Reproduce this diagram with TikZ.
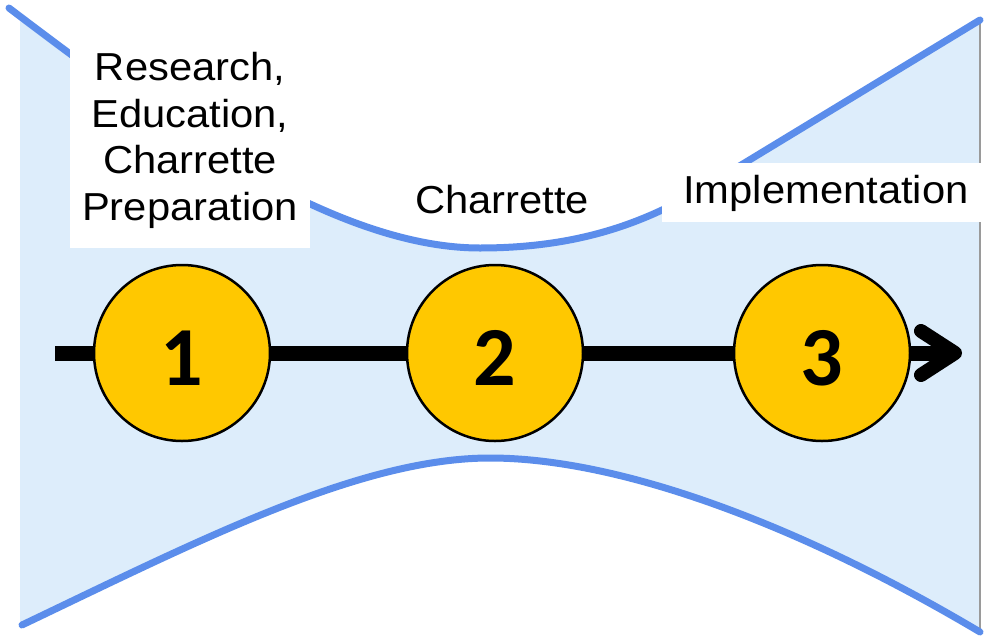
\documentclass[tikz,border=0pt]{standalone}
\usepackage{fontspec}
\setmainfont{Liberation Sans}[FakeStretch=1.07]
\newfontfamily\numfont{Carlito}
\usetikzlibrary{calc}
\definecolor{funnelfill}{HTML}{DDEDFB}
\definecolor{funnelline}{HTML}{5B8DEB}
\definecolor{stepgold}{HTML}{FFC800}
\definecolor{edgegray}{HTML}{9A9A9A}
\begin{document}
\begin{tikzpicture}[x=1pt,y=-1pt,
  funnel/.style={draw=funnelline, line width=7pt, line cap=round},
  stepcircle/.style={circle, fill=stepgold, draw=black, line width=2.5pt,
    minimum size=176pt, inner sep=0pt, text height=65pt, text depth=0pt,
    font=\numfont\bfseries\fontsize{84}{84}\selectfont},
  phasetext/.style={font=\fontsize{39}{46.5}\selectfont, align=center, inner sep=0pt},
  flowline/.style={line width=15pt},
  chevron/.style={line width=14pt, line cap=round, line join=round}]
\useasboundingbox (0,0) rectangle (988,635);
% funnel area
\fill[funnelfill] (9,8) .. controls (150,115) and (330,248) .. (480,248)
  .. controls (580,248) and (645,222) .. (700,190) -- (980,20) -- (980,632)
  .. controls (800,525) and (620,458) .. (490,458)
  .. controls (360,458) and (200,540) .. (22,625) -- (20,625) -- (20,16) -- cycle;
\draw[edgegray, line width=1.5pt] (980,20) -- (980,632);
\draw[funnel] (9,8) .. controls (150,115) and (330,248) .. (480,248)
  .. controls (580,248) and (645,222) .. (700,190) -- (980,20);
\draw[funnel] (22,625) .. controls (200,540) and (360,458) .. (490,458)
  .. controls (620,458) and (800,525) .. (980,632);
% white label backgrounds
\fill[white] (70,0) rectangle (310,248);
\fill[white] (662,163) rectangle (988,222);
% labels
\node[phasetext, anchor=base] (t1) at (190,220) {Research,\\Education,\\Charrette\\Preparation};
\node[phasetext, anchor=base] (t2) at (502,213) {Charrette};
\node[phasetext, anchor=base] (t3) at (826,203) {Implementation};
% process line
\coordinate (start) at (55,353);
\coordinate (tip) at (955,353);
\node[stepcircle] (s1) at (182,353) {1};
\node[stepcircle] (s2) at (495,353) {2};
\node[stepcircle] (s3) at (822,353) {3};
\draw[flowline] (start) -- (s1);
\draw[flowline] (s1) -- (s2);
\draw[flowline] (s2) -- (s3);
\draw[flowline] (s3) -- (tip);
\draw[chevron] ($(tip)+(-34,-22)$) -- (tip) -- ($(tip)+(-34,22)$);
\end{tikzpicture}
\end{document}
